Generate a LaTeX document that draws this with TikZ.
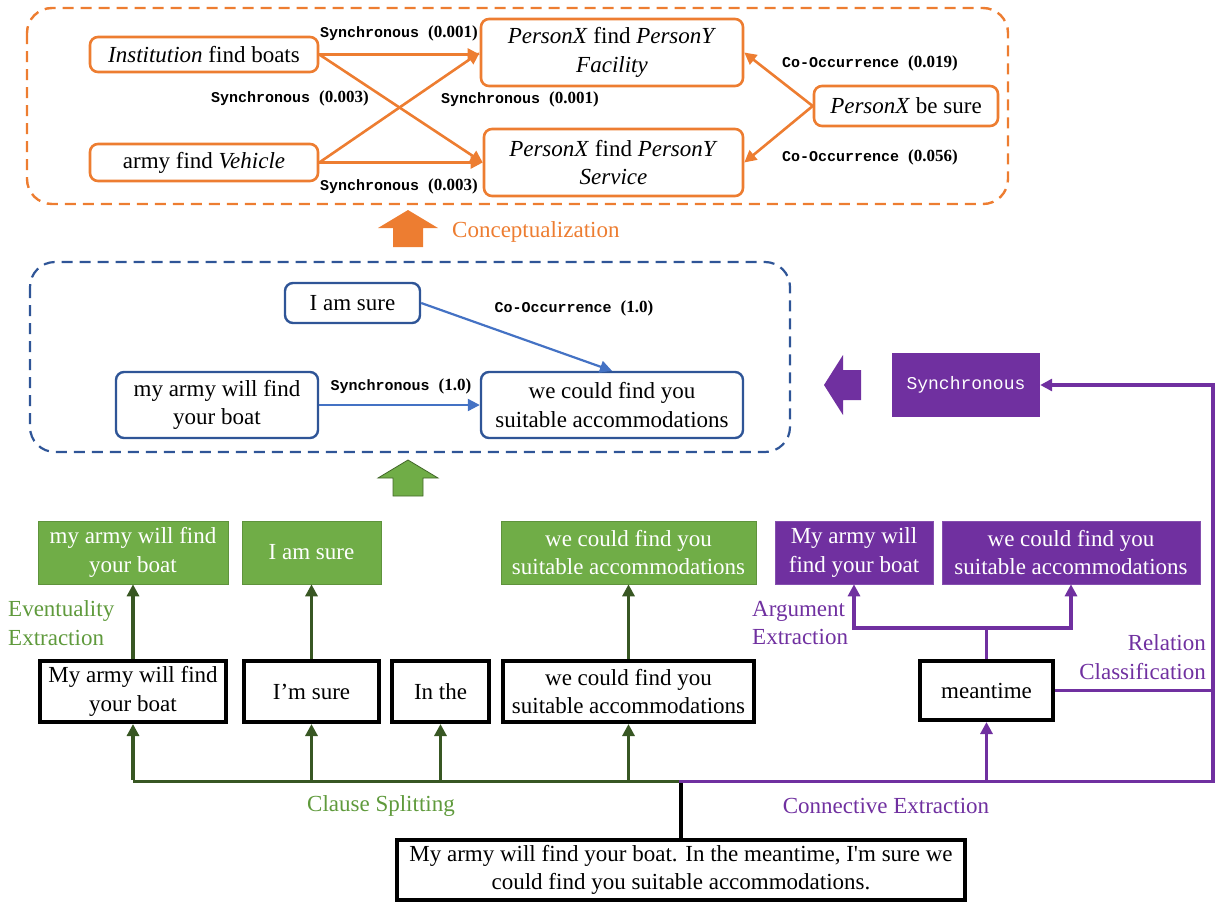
\documentclass[tikz,border=0pt]{standalone}
\usepackage{fontspec}
\setmainfont{Liberation Serif}
\setmonofont{Liberation Mono}
\newfontfamily\plainrm{Liberation Serif}[Ligatures=TeXOff]
\usetikzlibrary{arrows.meta,calc}
\definecolor{org}{HTML}{ED7D31}
\definecolor{bdark}{HTML}{2F5597}
\definecolor{blite}{HTML}{4472C4}
\definecolor{gfill}{HTML}{70AD47}
\definecolor{gdark}{HTML}{385723}
\definecolor{glab}{HTML}{5F9A3C}
\definecolor{pur}{HTML}{7030A0}
\newcommand\mytxt{\fontsize{23}{28.5}\selectfont}
\newcommand\edgelab[2]{{\fontsize{15}{18}\selectfont\ttfamily\bfseries #1 \fontsize{17}{18}\selectfont\rmfamily\bfseries #2}}
\tikzset{
  obox/.style={draw=org, line width=2.6pt, rounded corners=8pt, fill=white, align=center, font=\mytxt, inner sep=0pt},
  bbox/.style={draw=bdark, line width=2.4pt, rounded corners=8pt, fill=white, align=center, font=\mytxt, inner sep=0pt},
  gbox/.style={draw=gfill!85!black, line width=0.6pt, fill=gfill, text=white, align=center, font=\mytxt, inner sep=0pt},
  pbox/.style={draw=pur!85!white, line width=0.6pt, fill=pur, text=white, align=center, font=\mytxt, inner sep=0pt},
  kbox/.style={draw=black, line width=4pt, fill=white, align=center, font=\mytxt, inner sep=0pt},
  tip/.style={-{Triangle[length=12pt,width=12pt]}},
  oarr/.style={draw=org, line width=2.6pt, tip},
  barr/.style={draw=blite, line width=2.2pt, tip},
  garr/.style={draw=gdark, line width=3.4pt, tip},
  gline/.style={draw=gdark, line width=3.4pt},
  parr/.style={draw=pur, line width=3.2pt, tip},
  pline/.style={draw=pur, line width=3.2pt},
  elab/.style={inner sep=0pt},
  steplab/.style={font=\mytxt, inner sep=0pt, align=left},
}
\begin{document}
\begin{tikzpicture}[x=1pt,y=-1pt]
\useasboundingbox (0,0) rectangle (1219,905);
% ---------- orange conceptualized graph ----------
\draw[org, line width=2.4pt, dash pattern=on 11pt off 7pt, rounded corners=25pt] (27,8) rectangle (1008,204);
\node[obox, minimum width=228, minimum height=35] (inst) at (204,54.5) {\textit{Institution} find boats};
\node[obox, minimum width=228, minimum height=37] (army) at (204,162.5) {army find \textit{Vehicle}};
\node[obox, minimum width=262, minimum height=67] (fac) at (612,52.5) {\textit{PersonX} find \textit{PersonY}\\ \textit{Facility}};
\node[obox, minimum width=259, minimum height=67] (serv) at (613.5,162.5) {\textit{PersonX} find \textit{PersonY}\\ \textit{Service}};
\node[obox, minimum width=184, minimum height=40] (xsure) at (906,106) {\textit{PersonX} be sure};
\draw[oarr] (inst.east) -- (inst.east -| fac.west);
\draw[oarr] (inst.east) -- (serv.west);
\draw[oarr] (army.east) -- (fac.west);
\draw[oarr] (army.east) -- (serv.west);
\draw[oarr] (xsure.west) -- (fac.east);
\draw[oarr] (xsure.west) -- (serv.east);
\node[elab] (l1) at (399,33) {\edgelab{Synchronous}{(0.001)}};
\node[elab] (l2) at (290,98) {\edgelab{Synchronous}{(0.003)}};
\node[elab] (l3) at (520,99) {\edgelab{Synchronous}{(0.001)}};
\node[elab] (l4) at (399,186) {\edgelab{Synchronous}{(0.003)}};
\node[elab] (l5) at (870,63) {\edgelab{Co-Occurrence}{(0.019)}};
\node[elab] (l6) at (870,157) {\edgelab{Co-Occurrence}{(0.056)}};
% conceptualization arrow
\fill[org] (408,210) -- (438,228) -- (423,228) -- (423,247) -- (393,247) -- (393,228) -- (378,228) -- cycle;
\node[font=\mytxt, text=org, anchor=west, inner sep=0pt] (concl) at (452,232) {Conceptualization};
% ---------- blue eventuality graph ----------
\draw[bdark, line width=2.2pt, dash pattern=on 11pt off 7pt, rounded corners=25pt] (30,262) rectangle (790,452);
\node[bbox, minimum width=135, minimum height=40] (iam) at (352.5,303) {I am sure};
\node[bbox, minimum width=202, minimum height=66] (myarmy) at (217,405) {my army will find\\ your boat};
\node[bbox, minimum width=262, minimum height=66] (wecould) at (612,405) {we could find you\\ suitable accommodations};
\draw[barr] (iam.east) -- (wecould.north);
\draw[barr] (myarmy.east) -- (wecould.west);
\node[elab] (l7) at (574,308) {\edgelab{Co-Occurrence}{(1.0)}};
\node[elab] (l8) at (401,386) {\edgelab{Synchronous}{(1.0)}};
% green block arrow
\filldraw[fill=gfill, draw=gdark!80!gfill, line width=0.8pt] (408,460) -- (438,478) -- (423,478) -- (423,496) -- (393,496) -- (393,478) -- (378,478) -- cycle;
% purple block arrow
\fill[pur] (824,385) -- (843,355) -- (843,370) -- (861,370) -- (861,400) -- (843,400) -- (843,415) -- cycle;
\node[fill=pur, text=white, minimum width=148, minimum height=64, inner sep=0pt, font=\fontsize{18}{20}\selectfont\ttfamily] (syn) at (966,385) {Synchronous};
% ---------- extraction boxes ----------
\node[gbox, minimum width=190, minimum height=63] (g1) at (133,552.5) {my army will find\\ your boat};
\node[gbox, minimum width=139, minimum height=63] (g2) at (311.5,552.5) {I am sure};
\node[gbox, minimum width=255, minimum height=63] (g3) at (628.5,552.5) {we could find you\\ suitable accommodations};
\node[pbox, minimum width=158, minimum height=63] (p1) at (854,552.5) {My army will\\ find your boat};
\node[pbox, minimum width=258, minimum height=63] (p2) at (1071,552.5) {we could find you\\ suitable accommodations};
\node[kbox, minimum width=186, minimum height=61] (b1) at (133,691.5) {My army will find\\ your boat};
\node[kbox, minimum width=135, minimum height=61] (b2) at (311.5,691.5) {I’m sure};
\node[kbox, minimum width=97, minimum height=61] (b3) at (440.5,691.5) {In the};
\node[kbox, minimum width=251, minimum height=61] (b4) at (628.5,691.5) {we could find you\\ suitable accommodations};
\node[kbox, minimum width=133, minimum height=59] (mt) at (986.5,690.5) {meantime};
\node[kbox, minimum width=568, minimum height=60] (sent) at (681,870) {My army will find your boat. In the meantime, {\plainrm I'm} sure we\\ could find you suitable accommodations.};
% ---------- connectors ----------
\coordinate (split) at (681,781.5);
\coordinate (corner) at (1213,385);
\coordinate (ax) at (986.5,628);
\draw[black, line width=3.4pt] (sent.north) -- (split);
\draw[gline] ([xshift=1.7pt]split) -- (split -| b1.south);
\draw[garr] ([yshift=1.7pt]split -| b1.south) -- (b1.south);
\draw[garr] (split -| b2.south) -- (b2.south);
\draw[garr] (split -| b3.south) -- (b3.south);
\draw[garr] (split -| b4.south) -- (b4.south);
\draw[garr] (b1.north) -- (g1.south);
\draw[garr] (b2.north) -- (g2.south);
\draw[garr] (b4.north) -- (g3.south);
\draw[parr] ([xshift=-1.7pt]split) -- (split -| corner) -- (corner) -- (syn.east);
\draw[parr] (split -| mt.south) -- (mt.south);
\draw[pline] (mt.east) -- (mt.east -| corner);
\draw[pline] (mt.north) -- (ax);
\draw[parr] (ax) -| (p1.south);
\draw[parr] (ax) -| (p2.south);
% ---------- step labels ----------
\node[steplab, text=glab, anchor=west] (evl) at (8,623) {Eventuality\\ Extraction};
\node[steplab, text=pur, anchor=west] (arl) at (752,623) {Argument\\ Extraction};
\node[steplab, text=pur, anchor=east, align=right] (rcl) at (1206,657) {Relation\\ Classification};
\node[steplab, text=glab] (csl) at (381,806) {Clause Splitting};
\node[steplab, text=pur] (cel) at (886,806) {Connective Extraction};
\end{tikzpicture}
\end{document}
